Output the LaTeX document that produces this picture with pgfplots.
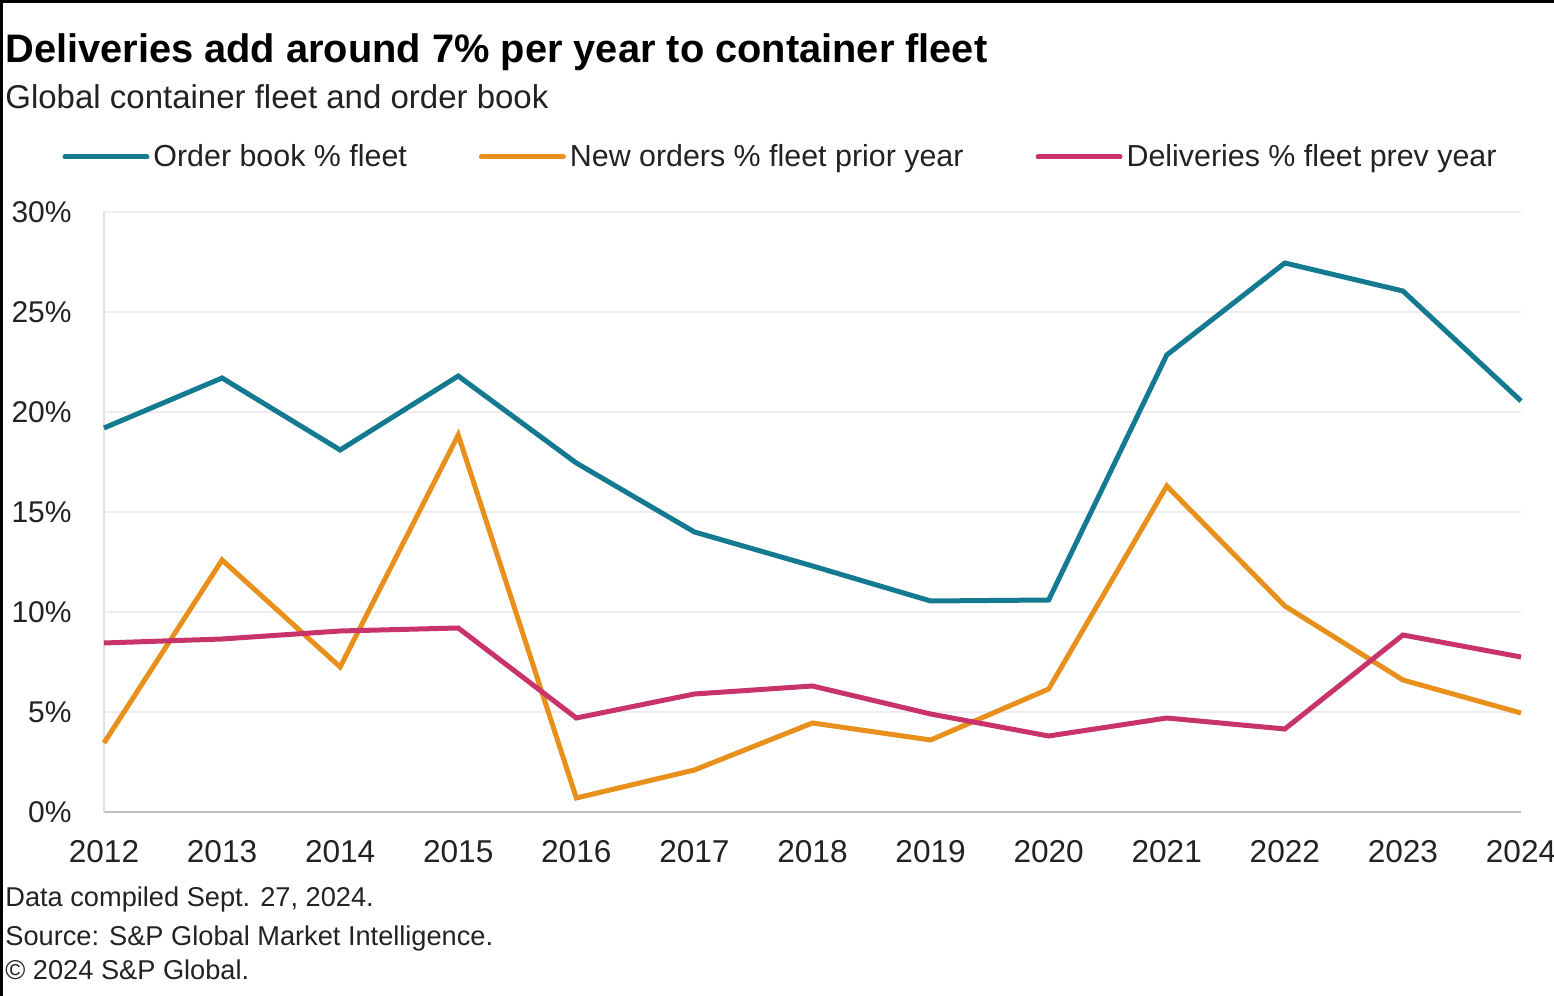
\documentclass[border=0pt]{standalone}
\usepackage{pgfplots}
\pgfplotsset{compat=1.18}
\usepackage{fontspec}
\setmainfont{Liberation Sans}
\definecolor{cteal}{HTML}{137A91}
\definecolor{corange}{HTML}{E8901C}
\definecolor{cmag}{HTML}{C8336B}
\definecolor{ctext}{HTML}{222222}
\begin{document}
\begin{tikzpicture}[x=1pt,y=1pt]
\path[use as bounding box] (0,0) rectangle (777,498);
\draw[black,line width=1.5pt] (0.75,0) -- (0.75,497.25) -- (777,497.25);
\node[anchor=base west,inner sep=0pt,font=\fontsize{19.9}{22}\selectfont\bfseries] at (2.5,466.5) {Deliveries add around 7\% per year to container fleet};
\node[anchor=base west,inner sep=0pt,font=\fontsize{16.5}{18}\selectfont,text=ctext] at (2.5,443.5) {Global container fleet and order book};
\node[anchor=base west,inner sep=0pt,font=\fontsize{13.6}{15}\selectfont,text=ctext] at (2.5,44.5) {Data compiled Sept. 27, 2024.};
\node[anchor=base west,inner sep=0pt,font=\fontsize{13.6}{15}\selectfont,text=ctext] at (2.5,25) {Source: S\&P Global Market Intelligence.};
\node[anchor=base west,inner sep=0pt,font=\fontsize{13.6}{15}\selectfont,text=ctext] at (2.5,8) {© 2024 S\&P Global.};
\begin{axis}[
  at={(52pt,92pt)}, anchor=south west, scale only axis,
  width=708.5pt, height=300pt,
  xmin=2012, xmax=2024, ymin=0, ymax=30,
  xtick={2012,2013,...,2024}, ytick={0,5,...,30},
  axis x line*=bottom, axis y line*=left,
  x axis line style={draw=black!25,line width=1pt,-},
  y axis line style={draw=black!12,line width=1pt,-},
  major tick length=0pt,
  ymajorgrids, grid style={draw=black!7,line width=0.8pt},
  /pgf/number format/assume math mode=true,
  /pgf/number format/1000 sep={},
  yticklabel={\pgfmathprintnumber{\tick}\%},
  tick label style={text=ctext},
  xticklabel style={font=\fontsize{15.8}{17}\selectfont,inner sep=0pt,anchor=north,yshift=-14pt},
  yticklabel style={font=\fontsize{15}{17}\selectfont,inner sep=0pt,anchor=east,xshift=-16pt},
  clip=false,
  legend columns=3,
  legend style={draw=none,fill=none,at={(-0.0296,1.0917)},anchor=west,
    font=\fontsize{15.2}{17}\selectfont,text=ctext,inner sep=0pt,
    /tikz/every even column/.append style={column sep=34pt}},
  legend cell align=left,
  legend image code/.code={\draw[#1,line width=2.5pt,line cap=round] (0pt,0pt) -- (41pt,0pt);},
  every axis plot/.append style={line width=2.5pt,line join=miter},
]
\addplot[cteal] coordinates {(2012,19.2)(2013,21.7)(2014,18.1)(2015,21.8)(2016,17.45)(2017,14.0)(2018,12.3)(2019,10.55)(2020,10.6)(2021,22.85)(2022,27.45)(2023,26.05)(2024,20.55)};
\addlegendentry{Order book \% fleet}
\addplot[corange] coordinates {(2012,3.45)(2013,12.6)(2014,7.25)(2015,18.85)(2016,0.7)(2017,2.1)(2018,4.45)(2019,3.6)(2020,6.15)(2021,16.3)(2022,10.3)(2023,6.6)(2024,4.95)};
\addlegendentry{New orders \% fleet prior year}
\addplot[cmag] coordinates {(2012,8.45)(2013,8.65)(2014,9.05)(2015,9.2)(2016,4.7)(2017,5.9)(2018,6.3)(2019,4.9)(2020,3.8)(2021,4.7)(2022,4.15)(2023,8.85)(2024,7.75)};
\addlegendentry{Deliveries \% fleet prev year}
\end{axis}
\end{tikzpicture}
\end{document}
